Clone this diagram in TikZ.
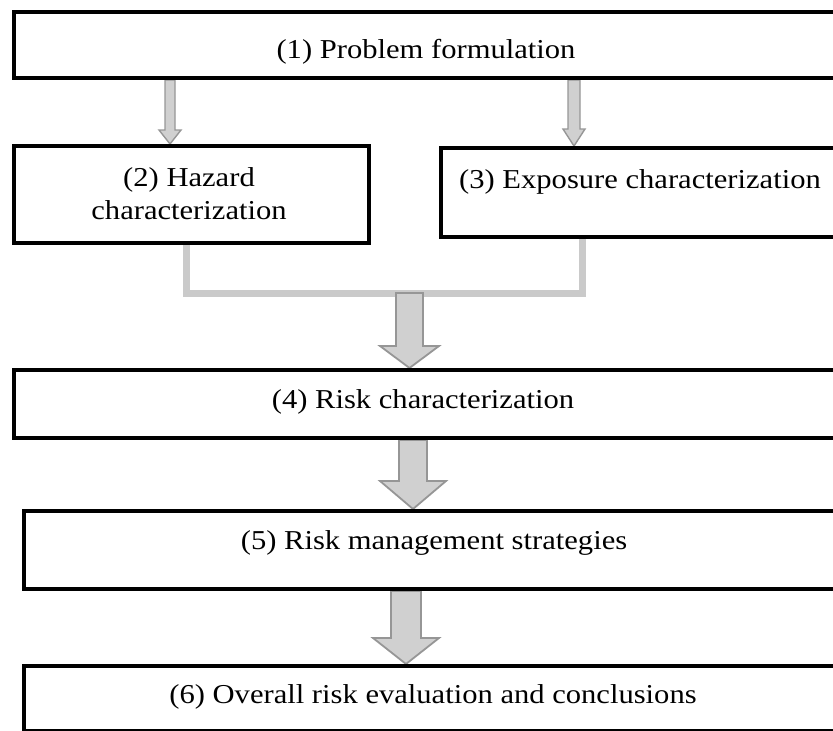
\documentclass[tikz,border=0pt]{standalone}
\usepackage{fontspec}
\setmainfont{Liberation Serif}[FakeStretch=1.12]
\usetikzlibrary{calc}
\pgfdeclarelayer{bg}
\pgfsetlayers{bg,main}
\definecolor{connc}{RGB}{202,202,202}
\definecolor{arrfill}{RGB}{208,208,208}
\definecolor{arrline}{RGB}{150,150,150}
\newcommand\blockarrow[6]{%
  \draw[#1] let \p1=(#2), \p2=(#3) in
    (\x1-#4,\y1) -- (\x1+#4,\y1) -- (\x1+#4,\y2+#6) -- (\x1+#5,\y2+#6)
    -- (\x1,\y2) -- (\x1-#5,\y2+#6) -- (\x1-#4,\y2+#6) -- cycle;}
\tikzset{
  box/.style={draw=black, line width=4pt, fill=white, rectangle, inner sep=0pt, anchor=north west},
  lbl/.style={font=\fontsize{27.3}{33}\selectfont, align=center, inner sep=0pt},
  thinarrow/.style={fill=arrfill, draw=arrline, line width=1.4pt, line join=miter},
  bigarrow/.style={fill=arrfill, draw=arrline, line width=1.8pt, line join=miter},
  conn/.style={draw=connc, line width=7pt}
}
\begin{document}
\begin{tikzpicture}[x=1pt, y=1pt]
\useasboundingbox (0,0) rectangle (833,-731);
\clip (0,0) rectangle (833,-731);
% boxes
\node[box, minimum width=830pt, minimum height=66pt] (b1) at (12,-10) {};
\node[box, minimum width=355pt, minimum height=97pt] (b2) at (12,-144) {};
\node[box, minimum width=402pt, minimum height=89pt] (b3) at (439,-146) {};
\node[box, minimum width=822pt, minimum height=68pt] (b4) at (12,-368) {};
\node[box, minimum width=824pt, minimum height=78pt] (b5) at (22,-509) {};
\node[box, minimum width=822pt, minimum height=65pt] (b6) at (22,-664) {};
% texts
\node[lbl] (t1) at (426,-52) {(1) Problem formulation};
\node[lbl] (t2) at (189,-194) {(2) Hazard\\characterization};
\node[lbl] (t3) at (640,-182) {(3) Exposure characterization};
\node[lbl] (t4) at (423,-402) {(4) Risk characterization};
\node[lbl] (t5) at (434,-543) {(5) Risk management strategies};
\node[lbl] (t6) at (433,-697) {(6) Overall risk evaluation and conclusions};
% helper coordinates
\coordinate (x12) at (170,0);
\coordinate (x13) at (574,0);
\coordinate (xl) at (186,0);
\coordinate (xr) at (582,0);
\coordinate (j) at (409.5,-293);
\coordinate (x45) at (413,0);
\coordinate (x56) at (406,0);
\begin{pgfonlayer}{bg}
\blockarrow{thinarrow}{x12 |- b1.south}{x12 |- b2.north}{5pt}{11pt}{14pt}
\blockarrow{thinarrow}{x13 |- b1.south}{x13 |- b3.north}{6pt}{11pt}{17pt}
\draw[conn] (xl |- b2.south) -- (xl |- j) -- (xr |- j) -- (xr |- b3.south);
\blockarrow{bigarrow}{j}{j |- b4.north}{13.5pt}{29.5pt}{22pt}
\blockarrow{bigarrow}{x45 |- b4.south}{x45 |- b5.north}{14pt}{33pt}{28pt}
\blockarrow{bigarrow}{x56 |- b5.south}{x56 |- b6.north}{15pt}{33pt}{26pt}
\end{pgfonlayer}
\end{tikzpicture}
\end{document}
